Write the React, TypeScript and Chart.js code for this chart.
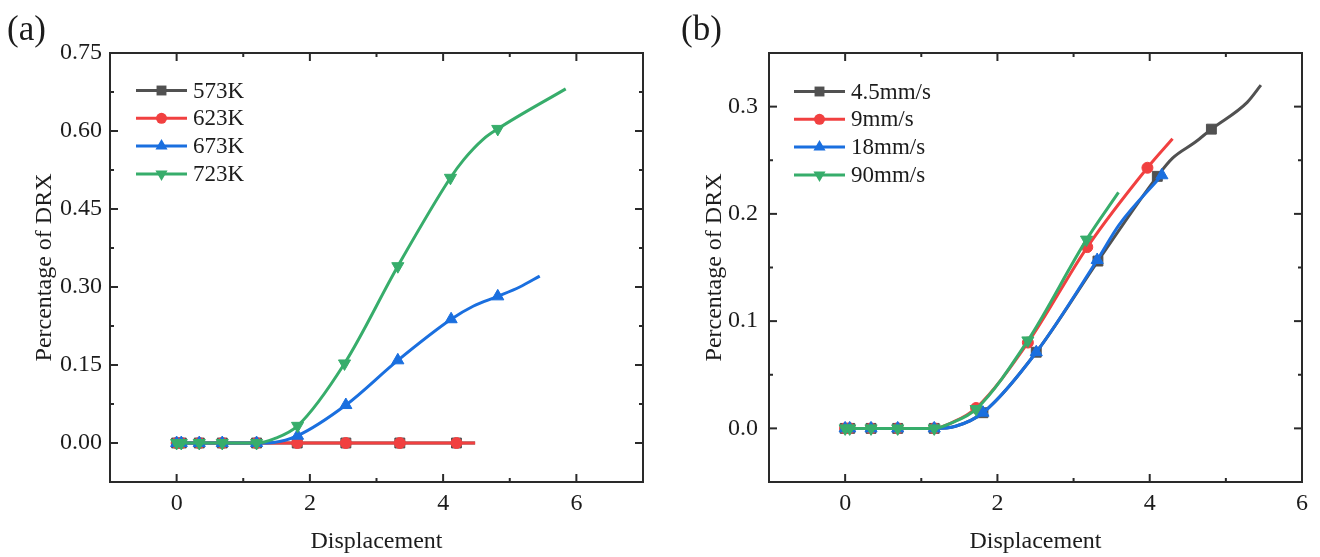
import React, { useEffect, useRef } from 'react';
import { Chart, registerables } from 'chart.js';

Chart.register(...registerables);

const FONT = '"Liberation Serif", "Times New Roman", serif';
const INK = '#1c1c1c';
const COLORS = ['#515151', '#F14040', '#1A6FDF', '#37AD6B'];
const MARKERS = ['rect', 'circle', 'triangle', 'triangleDown'];
const RADII = [7, 5.5, 7, 7];

// ---------- panel (a): temperature series ----------
const A_LABELS = ['573K', '623K', '673K', '723K'];
const A_X_MAJOR = [0, 2, 4, 6];
const A_X_MINOR = [1, 3, 5];
const A_Y_MAJOR = [0, 0.15, 0.3, 0.45, 0.6, 0.75];
const A_Y_MINOR = [0.075, 0.225, 0.375, 0.525, 0.675];

const A573_MARK_X = [0, 0.07, 0.34, 0.685, 1.2, 1.81, 2.54, 3.35, 4.2];
const A573_MARK_Y = [0, 0, 0, 0, 0, 0, 0, 0, 0];
const A573_CURVE_X = [4.48];
const A573_CURVE_Y = [0];

const A623_MARK_X = [0, 0.07, 0.34, 0.685, 1.2, 1.81, 2.54, 3.35, 4.2];
const A623_MARK_Y = [0, 0, 0, 0, 0, 0, 0, 0, 0];
const A623_CURVE_X = [4.48];
const A623_CURVE_Y = [0];

const A673_MARK_X = [0, 0.07, 0.34, 0.685, 1.2, 1.815, 2.54, 3.32, 4.12, 4.82];
const A673_MARK_Y = [0, 0, 0, 0, 0, 0.014, 0.073, 0.159, 0.238, 0.282];
const A673_CURVE_X = [1.46, 4.45, 5.15, 5.45];
const A673_CURVE_Y = [0.001, 0.263, 0.3, 0.321];

const A723_MARK_X = [0, 0.07, 0.34, 0.685, 1.2, 1.815, 2.52, 3.32, 4.11, 4.82];
const A723_MARK_Y = [0, 0, 0, 0, 0, 0.033, 0.153, 0.34, 0.51, 0.604];
const A723_CURVE_X = [1.46, 4.31, 4.6, 5.84];
const A723_CURVE_Y = [0.008, 0.545, 0.584, 0.681];

// ---------- panel (b): speed series ----------
const B_LABELS = ['4.5mm/s', '9mm/s', '18mm/s', '90mm/s'];
const B_X_MAJOR = [0, 2, 4, 6];
const B_X_MINOR = [1, 3, 5];
const B_Y_MAJOR = [0, 0.1, 0.2, 0.3];
const B_Y_MINOR = [0.05, 0.15, 0.25];

const B45_MARK_X = [0, 0.06, 0.34, 0.69, 1.17, 1.81, 2.51, 3.32, 4.1, 4.81];
const B45_MARK_Y = [0, 0, 0, 0, 0, 0.0146, 0.071, 0.156, 0.235, 0.279];
const B45_CURVE_X = [1.45, 4.3, 4.6, 5.28, 5.46];
const B45_CURVE_Y = [0.002, 0.252, 0.267, 0.304, 0.32];

const B9_MARK_X = [0, 0.06, 0.34, 0.69, 1.17, 1.72, 2.4, 3.18, 3.97];
const B9_MARK_Y = [0, 0, 0, 0, 0, 0.019, 0.08, 0.169, 0.243];
const B9_CURVE_X = [1.39, 4.3];
const B9_CURVE_Y = [0.005, 0.27];

const B18_MARK_X = [0, 0.06, 0.34, 0.69, 1.17, 1.81, 2.51, 3.31, 4.16];
const B18_MARK_Y = [0, 0, 0, 0, 0, 0.0146, 0.071, 0.157, 0.236];
const B18_CURVE_X = [1.45, 3.6];
const B18_CURVE_Y = [0.002, 0.19];

const B90_MARK_X = [0, 0.06, 0.34, 0.69, 1.17, 1.72, 2.4, 3.17];
const B90_MARK_Y = [0, 0, 0, 0, 0, 0.018, 0.082, 0.176];
const B90_CURVE_X = [1.39, 3.59];
const B90_CURVE_Y = [0.005, 0.22];

type Pt = { x: number; y: number; m: boolean };

function mergePoints(curveX: number[], curveY: number[], markX: number[], markY: number[]): Pt[] {
  const pts: Pt[] = curveX
    .map((x, i) => ({ x, y: curveY[i], m: false }))
    .concat(markX.map((x, i) => ({ x, y: markY[i], m: true })));
  pts.sort((a, b) => a.x - b.x);
  return pts;
}

function markerPath(ctx: CanvasRenderingContext2D, style: string, x: number, y: number, r: number) {
  ctx.beginPath();
  if (style === 'rect') {
    const s = r * Math.SQRT1_2;
    ctx.rect(x - s, y - s, 2 * s, 2 * s);
  } else if (style === 'circle') {
    ctx.arc(x, y, r, 0, Math.PI * 2);
  } else {
    const rot = style === 'triangleDown' ? Math.PI : 0;
    for (let k = 0; k < 3; k++) {
      const a = rot + (k * 2 * Math.PI) / 3;
      const px = x + Math.sin(a) * r;
      const py = y - Math.cos(a) * r;
      if (k === 0) ctx.moveTo(px, py);
      else ctx.lineTo(px, py);
    }
    ctx.closePath();
  }
}

// Frame with inward ticks on all four sides, legend with line+marker keys, panel tag.
const decor = {
  id: 'decor',
  afterDraw(chart: any, _args: any, o: any) {
    const { ctx, chartArea: a, scales } = chart;
    ctx.save();
    ctx.strokeStyle = '#2a2a2a';
    ctx.lineWidth = 2;
    ctx.strokeRect(a.left, a.top, a.right - a.left, a.bottom - a.top);
    const seg = (x1: number, y1: number, x2: number, y2: number) => {
      ctx.beginPath();
      ctx.moveTo(x1, y1);
      ctx.lineTo(x2, y2);
      ctx.stroke();
    };
    const xt = (vals: number[], len: number) => vals.forEach((v) => {
      const px = scales.x.getPixelForValue(v);
      seg(px, a.bottom, px, a.bottom - len);
      seg(px, a.top, px, a.top + len);
    });
    const yt = (vals: number[], len: number) => vals.forEach((v) => {
      const py = scales.y.getPixelForValue(v);
      seg(a.left, py, a.left + len, py);
      seg(a.right, py, a.right - len, py);
    });
    xt(o.xMajor, 8);
    xt(o.xMinor, 4);
    yt(o.yMajor, 8);
    yt(o.yMinor, 4);

    // legend
    ctx.font = `23px ${FONT}`;
    ctx.textBaseline = 'middle';
    ctx.textAlign = 'left';
    chart.data.datasets.forEach((ds: any, i: number) => {
      const y = o.legendTop + i * o.legendStep;
      ctx.strokeStyle = COLORS[i];
      ctx.lineWidth = 3;
      seg(o.legendX0, y, o.legendX1, y);
      ctx.fillStyle = COLORS[i];
      markerPath(ctx, MARKERS[i], (o.legendX0 + o.legendX1) / 2, y, RADII[i]);
      ctx.fill();
      ctx.fillStyle = INK;
      ctx.fillText(ds.label, o.legendX1 + 6, y + 1);
    });

    // panel tag
    ctx.font = `35px ${FONT}`;
    ctx.fillStyle = INK;
    ctx.fillText(o.tag, o.tagX, o.tagY);
    ctx.restore();
  },
};

type PanelDef = {
  labels: string[];
  series: Pt[][];
  xMin: number; xMax: number;
  yMin: number; yMax: number;
  xMajor: number[]; xMinor: number[];
  yMajor: number[]; yMinor: number[];
  yDigits: number;
  yAxisWidth: number;
  yTickPad: number;
  yTitlePad: number;
  rightPad: number;
  tag: string; tagX: number;
  legendX0: number; legendX1: number; legendTop: number;
};

function makeConfig(p: PanelDef): any {
  return {
    type: 'line',
    data: {
      datasets: p.series.map((pts, i) => ({
        label: p.labels[i],
        data: pts,
        borderColor: COLORS[i],
        backgroundColor: COLORS[i],
        borderWidth: 3,
        cubicInterpolationMode: 'monotone',
        pointStyle: MARKERS[i] === 'triangleDown' ? 'triangle' : MARKERS[i],
        pointRotation: MARKERS[i] === 'triangleDown' ? 180 : 0,
        pointRadius: (c: any) => (c.raw && c.raw.m ? RADII[i] : 0),
        pointHoverRadius: 0,
        pointBorderWidth: 1,
        order: 10 - i,
      })),
    },
    options: {
      animation: false,
      responsive: false,
      maintainAspectRatio: false,
      events: [],
      layout: { padding: { left: 0, top: 53, right: p.rightPad, bottom: 0 } },
      plugins: {
        legend: { display: false },
        tooltip: { enabled: false },
        decor: {
          xMajor: p.xMajor, xMinor: p.xMinor, yMajor: p.yMajor, yMinor: p.yMinor,
          legendX0: p.legendX0, legendX1: p.legendX1, legendTop: p.legendTop, legendStep: 27.8,
          tag: p.tag, tagX: p.tagX, tagY: 31,
        },
      },
      scales: {
        x: {
          type: 'linear',
          min: p.xMin,
          max: p.xMax,
          afterBuildTicks: (s: any) => { s.ticks = p.xMajor.map((v) => ({ value: v })); },
          afterFit: (s: any) => { s.height = 75; },
          grid: { display: false, drawTicks: false },
          border: { display: false },
          ticks: {
            autoSkip: false,
            maxRotation: 0,
            padding: 7,
            color: INK,
            font: { family: FONT, size: 24 },
            callback: (v: number) => String(v),
          },
          title: {
            display: true,
            text: 'Displacement',
            color: INK,
            font: { family: FONT, size: 24 },
            padding: { top: 0, bottom: 1 },
          },
        },
        y: {
          type: 'linear',
          min: p.yMin,
          max: p.yMax,
          afterBuildTicks: (s: any) => { s.ticks = p.yMajor.map((v) => ({ value: v })); },
          afterFit: (s: any) => { s.width = p.yAxisWidth; },
          grid: { display: false, drawTicks: false },
          border: { display: false },
          ticks: {
            autoSkip: false,
            padding: p.yTickPad,
            color: INK,
            font: { family: FONT, size: 24 },
            callback: (v: number) => v.toFixed(p.yDigits),
          },
          title: {
            display: true,
            text: 'Percentage of DRX',
            color: INK,
            font: { family: FONT, size: 24 },
            padding: { top: p.yTitlePad, bottom: 0 },
          },
        },
      },
    },
    plugins: [decor],
  };
}

const PANEL_A: PanelDef = {
  labels: A_LABELS,
  series: [
    mergePoints(A573_CURVE_X, A573_CURVE_Y, A573_MARK_X, A573_MARK_Y),
    mergePoints(A623_CURVE_X, A623_CURVE_Y, A623_MARK_X, A623_MARK_Y),
    mergePoints(A673_CURVE_X, A673_CURVE_Y, A673_MARK_X, A673_MARK_Y),
    mergePoints(A723_CURVE_X, A723_CURVE_Y, A723_MARK_X, A723_MARK_Y),
  ],
  xMin: -1, xMax: 7, yMin: -0.075, yMax: 0.75,
  xMajor: A_X_MAJOR, xMinor: A_X_MINOR, yMajor: A_Y_MAJOR, yMinor: A_Y_MINOR,
  yDigits: 2, yAxisWidth: 110, yTickPad: 8, yTitlePad: 30, rightPad: 17,
  tag: '(a)', tagX: 7,
  legendX0: 136, legendX1: 187, legendTop: 90.5,
};

const PANEL_B: PanelDef = {
  labels: B_LABELS,
  series: [
    mergePoints(B45_CURVE_X, B45_CURVE_Y, B45_MARK_X, B45_MARK_Y),
    mergePoints(B9_CURVE_X, B9_CURVE_Y, B9_MARK_X, B9_MARK_Y),
    mergePoints(B18_CURVE_X, B18_CURVE_Y, B18_MARK_X, B18_MARK_Y),
    mergePoints(B90_CURVE_X, B90_CURVE_Y, B90_MARK_X, B90_MARK_Y),
  ],
  xMin: -1, xMax: 6, yMin: -0.05, yMax: 0.35,
  xMajor: B_X_MAJOR, xMinor: B_X_MINOR, yMajor: B_Y_MAJOR, yMinor: B_Y_MINOR,
  yDigits: 1, yAxisWidth: 109, yTickPad: 11, yTitlePad: 40, rightPad: 18,
  tag: '(b)', tagX: 21,
  legendX0: 134, legendX1: 185, legendTop: 91.5,
};

function Panel({ def, left }: { def: PanelDef; left: number }) {
  const ref = useRef<HTMLCanvasElement | null>(null);
  useEffect(() => {
    if (!ref.current) return;
    const chart = new Chart(ref.current, makeConfig(def));
    return () => chart.destroy();
  }, [def]);
  return (
    <canvas
      ref={ref}
      width={660}
      height={557}
      style={{ position: 'absolute', left, top: 0, width: 660, height: 557 }}
    />
  );
}

export default function App() {
  return (
    <div style={{ position: 'absolute', left: 0, top: 0, width: 1320, height: 557, background: '#fff' }}>
      <Panel def={PANEL_A} left={0} />
      <Panel def={PANEL_B} left={660} />
    </div>
  );
}
